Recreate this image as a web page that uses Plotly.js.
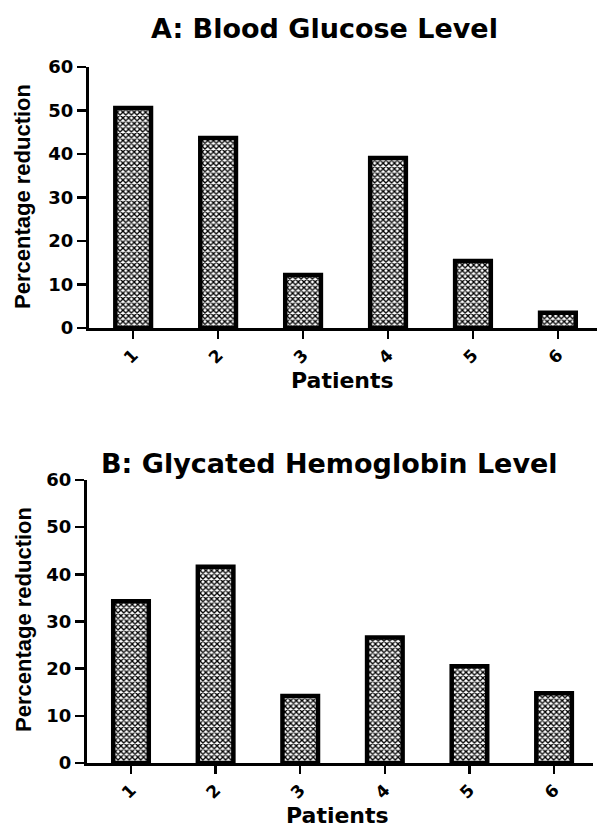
<!DOCTYPE html>
<html>
<head>
<meta charset="utf-8">
<script src="https://cdn.plot.ly/plotly-3.0.1.min.js"></script>
<style>html,body{margin:0;padding:0;background:#fff;}#chart{width:597px;height:828px;}</style>
</head>
<body>
<div id="chart"></div>
<script>
var patients = ["1", "2", "3", "4", "5", "6"];
var glucoseReduction = [50.6, 43.7, 12.2, 39.1, 15.4, 3.5];
var hba1cReduction = [34.3, 41.6, 14.2, 26.6, 20.5, 14.8];
var yTicks = [0, 10, 20, 30, 40, 50, 60];
var titleA = "A: Blood Glucose Level";
var titleB = "B: Glycated Hemoglobin Level";
var xTitle = "Patients";
var yTitle = "Percentage reduction";

var W = 597, H = 828;
function px(x){return x / W;}
function py(y){return 1 - y / H;}

var barStyle = {
  color: "#ffffff",
  line: {color: "#000000", width: 4.5},
  pattern: {shape: "x", fgcolor: "#000000", bgcolor: "#ffffff", size: 4, solidity: 0.55}
};

var traces = [
  {type: "bar", x: patients, y: glucoseReduction, xaxis: "x", yaxis: "y", width: 0.42, marker: barStyle, hoverinfo: "none"},
  {type: "bar", x: patients, y: hba1cReduction, xaxis: "x2", yaxis: "y2", width: 0.42, marker: barStyle, hoverinfo: "none"}
];

function xax(domain, anchor){
  return {domain: domain, anchor: anchor, type: "category", range: [-0.52, 5.46],
    showline: true, linecolor: "#000", linewidth: 2.5, ticks: "outside", ticklen: 8, tickwidth: 2.5,
    tickcolor: "#000", tickangle: -45, tickfont: {family: "DejaVu Sans, Arial, sans-serif", size: 17, color: "#000", weight: "bold"},
    showgrid: false, zeroline: false, fixedrange: true};
}
function yax(domain, anchor){
  return {domain: domain, anchor: anchor, range: [0, 60], tickvals: yTicks,
    showline: true, linecolor: "#000", linewidth: 3, ticks: "outside", ticklen: 9, tickwidth: 2.5,
    tickcolor: "#000", tickfont: {family: "DejaVu Sans, Arial, sans-serif", size: 18, color: "#000", weight: "bold"},
    showgrid: false, zeroline: false, fixedrange: true};
}

var titleFont = {family: "DejaVu Sans, Arial, sans-serif", size: 27, color: "#000", weight: "bold"};
var xTitleFont = {family: "DejaVu Sans, Arial, sans-serif", size: 22, color: "#000", weight: "bold"};
var yTitleFont = {family: "Liberation Sans, Arial, sans-serif", size: 22, color: "#000", weight: "bold"};

var layout = {
  width: W, height: H,
  margin: {l: 0, r: 0, t: 0, b: 0},
  paper_bgcolor: "#fff", plot_bgcolor: "#fff",
  showlegend: false,
  xaxis: xax([px(89), 1], "y"),
  yaxis: yax([py(328), py(67)], "x"),
  xaxis2: xax([px(87), px(593)], "y2"),
  yaxis2: yax([py(763), py(480)], "x2"),
  annotations: [
    {text: titleA, x: px(324), y: py(28), xref: "paper", yref: "paper", showarrow: false, font: titleFont, xanchor: "center", yanchor: "middle"},
    {text: titleB, x: px(330), y: py(463), xref: "paper", yref: "paper", showarrow: false, font: titleFont, xanchor: "center", yanchor: "middle"},
    {text: xTitle, x: px(342), y: py(380), xref: "paper", yref: "paper", showarrow: false, font: xTitleFont, xanchor: "center", yanchor: "middle"},
    {text: xTitle, x: px(337), y: py(815), xref: "paper", yref: "paper", showarrow: false, font: xTitleFont, xanchor: "center", yanchor: "middle"},
    {text: yTitle, x: px(23), y: py(197), xref: "paper", yref: "paper", showarrow: false, font: yTitleFont, textangle: -90, xanchor: "center", yanchor: "middle"},
    {text: yTitle, x: px(23), y: py(620), xref: "paper", yref: "paper", showarrow: false, font: yTitleFont, textangle: -90, xanchor: "center", yanchor: "middle"}
  ]
};

Plotly.newPlot("chart", traces, layout, {displayModeBar: false, staticPlot: true});
</script>
</body>
</html>
